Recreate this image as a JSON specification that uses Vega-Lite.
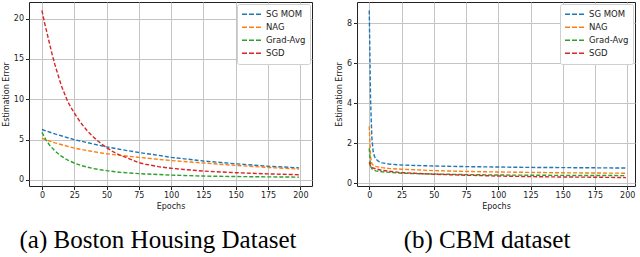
{
  "$schema": "https://vega.github.io/schema/vega-lite/v6.json",
  "background": "white",
  "padding": {"left": 1, "top": 1, "right": 2, "bottom": 0},
  "spacing": 45,
  "bounds": "flush",
  "datasets": {
    "boston": [
      {"epoch": 0, "method": "SG MOM", "error": 6.25},
      {"epoch": 10, "method": "SG MOM", "error": 5.7},
      {"epoch": 25, "method": "SG MOM", "error": 5.0},
      {"epoch": 40, "method": "SG MOM", "error": 4.45},
      {"epoch": 50, "method": "SG MOM", "error": 4.1},
      {"epoch": 60, "method": "SG MOM", "error": 3.8},
      {"epoch": 75, "method": "SG MOM", "error": 3.4},
      {"epoch": 90, "method": "SG MOM", "error": 3.05},
      {"epoch": 100, "method": "SG MOM", "error": 2.8},
      {"epoch": 125, "method": "SG MOM", "error": 2.35},
      {"epoch": 150, "method": "SG MOM", "error": 2.0},
      {"epoch": 175, "method": "SG MOM", "error": 1.7},
      {"epoch": 199, "method": "SG MOM", "error": 1.5},
      {"epoch": 0, "method": "NAG", "error": 5.15},
      {"epoch": 10, "method": "NAG", "error": 4.6},
      {"epoch": 25, "method": "NAG", "error": 3.95},
      {"epoch": 40, "method": "NAG", "error": 3.5},
      {"epoch": 50, "method": "NAG", "error": 3.25},
      {"epoch": 60, "method": "NAG", "error": 3.05},
      {"epoch": 75, "method": "NAG", "error": 2.8},
      {"epoch": 100, "method": "NAG", "error": 2.4},
      {"epoch": 125, "method": "NAG", "error": 2.1},
      {"epoch": 150, "method": "NAG", "error": 1.8},
      {"epoch": 175, "method": "NAG", "error": 1.55},
      {"epoch": 199, "method": "NAG", "error": 1.35},
      {"epoch": 0, "method": "Grad-Avg", "error": 5.9},
      {"epoch": 3, "method": "Grad-Avg", "error": 5.0},
      {"epoch": 6, "method": "Grad-Avg", "error": 4.3},
      {"epoch": 10, "method": "Grad-Avg", "error": 3.6},
      {"epoch": 15, "method": "Grad-Avg", "error": 2.95},
      {"epoch": 20, "method": "Grad-Avg", "error": 2.45},
      {"epoch": 25, "method": "Grad-Avg", "error": 2.1},
      {"epoch": 30, "method": "Grad-Avg", "error": 1.8},
      {"epoch": 40, "method": "Grad-Avg", "error": 1.4},
      {"epoch": 50, "method": "Grad-Avg", "error": 1.15},
      {"epoch": 60, "method": "Grad-Avg", "error": 0.95},
      {"epoch": 75, "method": "Grad-Avg", "error": 0.78},
      {"epoch": 100, "method": "Grad-Avg", "error": 0.6},
      {"epoch": 125, "method": "Grad-Avg", "error": 0.48},
      {"epoch": 150, "method": "Grad-Avg", "error": 0.42},
      {"epoch": 175, "method": "Grad-Avg", "error": 0.38},
      {"epoch": 199, "method": "Grad-Avg", "error": 0.35},
      {"epoch": 0, "method": "SGD", "error": 21.0},
      {"epoch": 2, "method": "SGD", "error": 19.5},
      {"epoch": 5, "method": "SGD", "error": 17.5},
      {"epoch": 8, "method": "SGD", "error": 15.5},
      {"epoch": 10, "method": "SGD", "error": 14.3},
      {"epoch": 15, "method": "SGD", "error": 11.7},
      {"epoch": 20, "method": "SGD", "error": 9.7},
      {"epoch": 25, "method": "SGD", "error": 8.3},
      {"epoch": 30, "method": "SGD", "error": 7.1},
      {"epoch": 35, "method": "SGD", "error": 6.1},
      {"epoch": 40, "method": "SGD", "error": 5.3},
      {"epoch": 45, "method": "SGD", "error": 4.6},
      {"epoch": 50, "method": "SGD", "error": 4.0},
      {"epoch": 55, "method": "SGD", "error": 3.5},
      {"epoch": 60, "method": "SGD", "error": 3.1},
      {"epoch": 65, "method": "SGD", "error": 2.8},
      {"epoch": 70, "method": "SGD", "error": 2.45},
      {"epoch": 75, "method": "SGD", "error": 2.15},
      {"epoch": 80, "method": "SGD", "error": 1.95},
      {"epoch": 90, "method": "SGD", "error": 1.65},
      {"epoch": 100, "method": "SGD", "error": 1.45},
      {"epoch": 110, "method": "SGD", "error": 1.3},
      {"epoch": 125, "method": "SGD", "error": 1.1},
      {"epoch": 150, "method": "SGD", "error": 0.9},
      {"epoch": 175, "method": "SGD", "error": 0.75},
      {"epoch": 199, "method": "SGD", "error": 0.65}
    ],
    "cbm": [
      {"epoch": 0, "method": "SG MOM", "error": 8.65},
      {"epoch": 1, "method": "SG MOM", "error": 4.2},
      {"epoch": 2, "method": "SG MOM", "error": 2.3},
      {"epoch": 3, "method": "SG MOM", "error": 1.6},
      {"epoch": 4, "method": "SG MOM", "error": 1.35},
      {"epoch": 5, "method": "SG MOM", "error": 1.22},
      {"epoch": 7, "method": "SG MOM", "error": 1.1},
      {"epoch": 10, "method": "SG MOM", "error": 1.02},
      {"epoch": 15, "method": "SG MOM", "error": 0.96},
      {"epoch": 25, "method": "SG MOM", "error": 0.91},
      {"epoch": 50, "method": "SG MOM", "error": 0.86},
      {"epoch": 75, "method": "SG MOM", "error": 0.83},
      {"epoch": 100, "method": "SG MOM", "error": 0.81},
      {"epoch": 125, "method": "SG MOM", "error": 0.79},
      {"epoch": 150, "method": "SG MOM", "error": 0.78},
      {"epoch": 175, "method": "SG MOM", "error": 0.77},
      {"epoch": 199, "method": "SG MOM", "error": 0.76},
      {"epoch": 0, "method": "NAG", "error": 2.85},
      {"epoch": 1, "method": "NAG", "error": 1.3},
      {"epoch": 2, "method": "NAG", "error": 0.98},
      {"epoch": 3, "method": "NAG", "error": 0.9},
      {"epoch": 5, "method": "NAG", "error": 0.84},
      {"epoch": 10, "method": "NAG", "error": 0.78},
      {"epoch": 15, "method": "NAG", "error": 0.74},
      {"epoch": 25, "method": "NAG", "error": 0.7},
      {"epoch": 50, "method": "NAG", "error": 0.63},
      {"epoch": 75, "method": "NAG", "error": 0.59},
      {"epoch": 100, "method": "NAG", "error": 0.56},
      {"epoch": 125, "method": "NAG", "error": 0.54},
      {"epoch": 150, "method": "NAG", "error": 0.52},
      {"epoch": 175, "method": "NAG", "error": 0.51},
      {"epoch": 199, "method": "NAG", "error": 0.5},
      {"epoch": 0, "method": "Grad-Avg", "error": 1.75},
      {"epoch": 1, "method": "Grad-Avg", "error": 0.85},
      {"epoch": 2, "method": "Grad-Avg", "error": 0.72},
      {"epoch": 3, "method": "Grad-Avg", "error": 0.67},
      {"epoch": 5, "method": "Grad-Avg", "error": 0.62},
      {"epoch": 10, "method": "Grad-Avg", "error": 0.57},
      {"epoch": 25, "method": "Grad-Avg", "error": 0.5},
      {"epoch": 50, "method": "Grad-Avg", "error": 0.46},
      {"epoch": 75, "method": "Grad-Avg", "error": 0.43},
      {"epoch": 100, "method": "Grad-Avg", "error": 0.41},
      {"epoch": 150, "method": "Grad-Avg", "error": 0.39},
      {"epoch": 199, "method": "Grad-Avg", "error": 0.38},
      {"epoch": 0, "method": "SGD", "error": 1.05},
      {"epoch": 1, "method": "SGD", "error": 0.85},
      {"epoch": 2, "method": "SGD", "error": 0.78},
      {"epoch": 5, "method": "SGD", "error": 0.72},
      {"epoch": 10, "method": "SGD", "error": 0.64},
      {"epoch": 25, "method": "SGD", "error": 0.53},
      {"epoch": 50, "method": "SGD", "error": 0.45},
      {"epoch": 75, "method": "SGD", "error": 0.4},
      {"epoch": 100, "method": "SGD", "error": 0.36},
      {"epoch": 125, "method": "SGD", "error": 0.33},
      {"epoch": 150, "method": "SGD", "error": 0.31},
      {"epoch": 175, "method": "SGD", "error": 0.3},
      {"epoch": 199, "method": "SGD", "error": 0.28}
    ]
  },
  "config": {
    "font": "DejaVu Sans",
    "view": {"stroke": "#222222", "strokeWidth": 1},
    "axis": {
      "domain": false,
      "grid": true,
      "gridColor": "#c4c4c4",
      "gridWidth": 1,
      "tickColor": "#222222",
      "tickSize": 3.5,
      "labelFont": "DejaVu Sans",
      "labelFontSize": 8,
      "labelColor": "#222222",
      "labelPadding": 2,
      "titleFont": "DejaVu Sans",
      "titleFontSize": 8,
      "titleFontWeight": "normal",
      "titleColor": "#222222",
      "titlePadding": 3
    },
    "legend": {
      "orient": "top-right",
      "offset": 2,
      "title": null,
      "padding": 4,
      "strokeColor": "#d0d0d0",
      "fillColor": "white",
      "cornerRadius": 2,
      "labelFont": "DejaVu Sans",
      "labelFontSize": 8.5,
      "labelColor": "#222222",
      "symbolType": "stroke",
      "symbolSize": 361,
      "symbolStrokeWidth": 1.5,
      "symbolDash": [5, 2],
      "clipHeight": 12.5,
      "rowPadding": 0,
      "labelOffset": 4
    },
    "title": {
      "font": "Liberation Serif",
      "fontSize": 25,
      "fontWeight": "normal",
      "color": "black",
      "orient": "bottom",
      "offset": 17
    }
  },
  "resolve": {"scale": {"color": "independent"}, "legend": {"color": "independent"}},
  "hconcat": [
    {
      "width": 283,
      "height": 184,
      "data": {"name": "boston"},
      "title": {"text": "(a) Boston Housing Dataset", "dx": -12.5},
      "mark": {"type": "line", "strokeDash": [4, 2], "strokeWidth": 1.4, "clip": true},
      "encoding": {
        "x": {"field": "epoch", "type": "quantitative", "title": "Epochs",
              "scale": {"domain": [-10, 209], "nice": false, "zero": false},
              "axis": {"values": [0, 25, 50, 75, 100, 125, 150, 175, 200]}},
        "y": {"field": "error", "type": "quantitative", "title": "Estimation Error",
              "scale": {"domain": [-0.75, 22.05], "nice": false, "zero": false},
              "axis": {"values": [0, 5, 10, 15, 20]}},
        "color": {"field": "method", "type": "nominal",
                  "scale": {"domain": ["SG MOM", "NAG", "Grad-Avg", "SGD"],
                            "range": ["#1f77b4", "#ff7f0e", "#2ca02c", "#d62728"]},
                  "legend": {}},
        "order": {"field": "epoch", "type": "quantitative"}
      }
    },
    {
      "width": 278,
      "height": 184,
      "data": {"name": "cbm"},
      "title": {"text": "(b) CBM dataset", "dx": -9},
      "mark": {"type": "line", "strokeDash": [4, 2], "strokeWidth": 1.4, "clip": true},
      "encoding": {
        "x": {"field": "epoch", "type": "quantitative", "title": "Epochs",
              "scale": {"domain": [-9.5, 206], "nice": false, "zero": false},
              "axis": {"values": [0, 25, 50, 75, 100, 125, 150, 175, 200]}},
        "y": {"field": "error", "type": "quantitative", "title": "Estimation Error",
              "scale": {"domain": [-0.14, 9.07], "nice": false, "zero": false},
              "axis": {"values": [0, 2, 4, 6, 8]}},
        "color": {"field": "method", "type": "nominal",
                  "scale": {"domain": ["SG MOM", "NAG", "Grad-Avg", "SGD"],
                            "range": ["#1f77b4", "#ff7f0e", "#2ca02c", "#d62728"]},
                  "legend": {}},
        "order": {"field": "epoch", "type": "quantitative"}
      }
    }
  ]
}
